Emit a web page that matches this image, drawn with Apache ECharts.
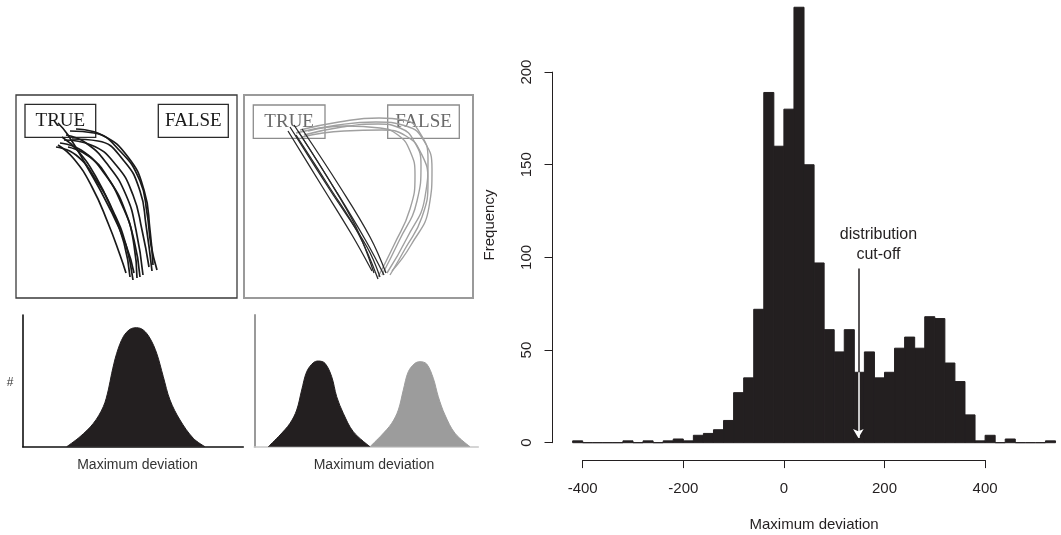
<!DOCTYPE html>
<html><head><meta charset="utf-8">
<script src="https://cdn.jsdelivr.net/npm/echarts@6/dist/echarts.min.js"></script>
<style>html,body{margin:0;padding:0;background:#fff}#c{width:1061px;height:535px}</style>
</head><body><div id="c"></div>
<script>
// ---------------- Histogram (right panel) ----------------
const binWidth = 20;
const binStarts = [-420,-400,-380,-360,-340,-320,-300,-280,-260,-240,-220,-200,-180,-160,-140,-120,-100,-80,-60,-40,-20,0,20,40,60,80,100,120,140,160,180,200,220,240,260,280,300,320,340,360,380,400,420,440,460,480,500,520];
const counts    = [1,0,0,0,0,1,0,1,0,1,2,1,4,5,7,12,27,35,72,189,160,180,235,150,97,61,49,61,38,49,35,38,51,57,51,68,67,43,33,15,1,4,0,2,0,0,0,1];
const xTicks = [-400,-200,0,200,400];
const yTicks = [0,50,100,150,200];
const cutoffValue = 148;
const arrowTopValue = 94;
const cutoffLabel = 'distribution\ncut-off';
const cutoffLabelPos = [188, 107];
const histXTitle = 'Maximum deviation';
const histYTitle = 'Frequency';

// ---------------- Illustrative panels (left) ----------------
const choiceLabels = ['TRUE','FALSE'];
// panel A: all trajectories to TRUE (local panel units)
const panelATraj = [
  [[42,28],[52,40],[70,70],[92,110],[110,150],[118,178]],
  [[54,36],[78,38],[104,56],[124,86],[131,118],[135,150],[141,175]],
  [[48,45],[75,50],[100,70],[117,100],[126,135],[133,172]],
  [[44,48],[65,55],[88,78],[106,110],[118,145],[124,182]],
  [[40,52],[60,60],[80,85],[98,118],[110,150],[117,185]],
  [[50,40],[70,48],[92,70],[110,100],[120,135],[127,180]],
  [[46,42],[62,56],[80,82],[96,115],[108,148],[114,182]],
  [[56,44],[82,46],[108,66],[124,96],[130,130],[136,176]],
  [[42,50],[58,64],[76,92],[92,128],[104,160],[110,178]],
  [[52,52],[74,62],[94,86],[110,118],[118,150],[121,183]],
  [[60,34],[86,40],[112,62],[128,95],[134,135],[137,170]]
];
// panel B: trajectories to TRUE (dark) and via FALSE (grey)
const panelBTrueTraj = [
  [[46,32],[86,95],[123,152],[136,182]],
  [[50,30],[82,80],[112,132],[130,178]],
  [[54,36],[92,96],[122,146],[140,180]],
  [[44,36],[76,88],[108,140],[128,176]],
  [[58,34],[96,92],[126,142],[142,178]],
  [[52,40],[84,90],[114,138],[134,184]]
];
const panelBFalseTraj = [
  [[56,35],[95,27],[135,23],[160,25],[176,38],[184,64],[181,102],[163,143],[143,178]],
  [[60,40],[98,32],[134,29],[156,33],[170,46],[177,70],[173,106],[155,146],[138,180]],
  [[52,38],[94,30],[132,27],[162,31],[180,46],[188,74],[185,112],[167,150],[148,176]],
  [[64,36],[102,31],[136,33],[154,40],[166,56],[171,80],[166,114],[150,150],[134,182]],
  [[58,42],[100,36],[138,35],[162,41],[177,58],[184,86],[178,122],[161,154],[146,180]]
];
// panel C: unimodal distribution
const bellSingle = [[44,0],[57.3,10],[70.7,23.4],[80.6,40],[85.6,56.7],[89,73.4],[94,93.4],[100.6,110],[107.3,117.4],[114,119],[120.6,116.7],[127.3,108.4],[134,93.4],[140.6,70],[147.3,46.7],[157.3,26.7],[170.6,8.4],[182.3,0]];
// panel D: bimodal distribution
const bellTrue  = [[14,0],[25.7,11.7],[35.7,23.4],[42.4,36.7],[47.4,56.7],[52.4,75],[59,84],[64,85.7],[70.7,83.4],[77.4,70],[82.4,50],[89,33.4],[99,15],[115.7,0]];
const bellFalse = [[115.7,0],[127.4,11.7],[137.4,23.4],[144,36.7],[149,56.7],[154,75],[160.7,83.4],[165.7,85],[172.4,82.7],[179,68.4],[184,50],[190.7,31.7],[200.7,13.4],[215.7,0]];
const panelXTitle = 'Maximum deviation';
const panelYTitle = '#';

// ---------------- Layout ----------------
const X0 = 783.9, SX = 0.503, Y0 = 442.7, SY = 1.853;
const histXMin = -460, histXMax = 550, histYMax = 238;
const histTitleCenter = 60;
const FONT = 'Liberation Sans, Arial, Helvetica, sans-serif';
const SERIF = 'Liberation Serif, Times New Roman, serif';
const INK = '#231f20';

const grids = [
  {left:16, top:95, width:221, height:203, show:true, borderColor:'#3a3a3a', borderWidth:1.3},
  {left:244, top:95, width:229, height:203, show:true, borderColor:'#9a9a9a', borderWidth:2},
  {left:22.7, top:315, width:220.6, height:131.7},
  {left:254.3, top:315, width:224, height:131.7},
  {left:X0 + histXMin*SX, top:Y0 - histYMax*SY, width:(histXMax-histXMin)*SX, height:histYMax*SY},
  {left:X0 + xTicks[0]*SX, top:Y0 + 7.4, width:(xTicks[xTicks.length-1]-xTicks[0])*SX, height:10},
  {left:X0 + histXMin*SX, top:Y0 - yTicks[yTicks.length-1]*SY, width:10, height:yTicks[yTicks.length-1]*SY}
];
const hidden = {show:false};
const plainAxis = (gi, min, max, extra) => Object.assign({type:'value', gridIndex:gi, min, max, show:false}, extra||{});
const lineAxis = (color, width) => ({show:true, axisLine:{show:true, onZero:false, lineStyle:{color, width}}, axisTick:hidden, axisLabel:hidden, splitLine:hidden});

const xAxes = [
  plainAxis(0, 0, 221),
  plainAxis(1, 0, 229),
  plainAxis(2, 0, 220.6, lineAxis('#111', 1.6)),
  plainAxis(3, 0, 224, lineAxis('#c8c8c8', 1.6)),
  plainAxis(4, histXMin, histXMax),
  {type:'value', gridIndex:5, min:xTicks[0], max:xTicks[xTicks.length-1], interval:xTicks[1]-xTicks[0], position:'bottom',
    axisLine:{show:true, onZero:false, lineStyle:{color:INK, width:1}},
    axisTick:{show:true, length:8, lineStyle:{color:INK, width:1}},
    axisLabel:{show:true, fontSize:15, fontFamily:FONT, color:INK, margin:21},
    splitLine:hidden},
  plainAxis(6, 0, 1)
];
const yAxes = [
  plainAxis(0, 0, 203, {inverse:true}),
  plainAxis(1, 0, 203, {inverse:true}),
  plainAxis(2, 0, 131.7, lineAxis('#111', 1.6)),
  plainAxis(3, 0, 131.7, lineAxis('#9a9a9a', 2)),
  plainAxis(4, 0, histYMax),
  plainAxis(5, 0, 1),
  {type:'value', gridIndex:6, min:yTicks[0], max:yTicks[yTicks.length-1], interval:yTicks[1]-yTicks[0], position:'left',
    axisLine:{show:true, onZero:false, lineStyle:{color:INK, width:1}},
    axisTick:{show:true, length:8, lineStyle:{color:INK, width:1}},
    axisLabel:{show:true, rotate:90, fontSize:15, fontFamily:FONT, color:INK, margin:18},
    splitLine:hidden}
];

function choiceBoxes(boxes, border, textColor){
  return {
    silent:true,
    itemStyle:{color:'rgba(0,0,0,0)', borderColor:border, borderWidth:1.3},
    label:{show:true, position:'inside', fontFamily:SERIF, fontSize:19, color:textColor},
    data: boxes.map((b,i)=>[{name:choiceLabels[i], coord:[b[0],b[1]]},{coord:[b[2],b[3]]}])
  };
}

const series = [];
panelATraj.forEach((t,i)=>series.push({
  type:'line', xAxisIndex:0, yAxisIndex:0, data:t, smooth:0.5, showSymbol:false, silent:true,
  lineStyle:{color:'#1a1a1a', width:1.7},
  markArea: i===0 ? choiceBoxes([[9,9.3,79.7,42.3],[142.3,9.3,212.3,42.3]], '#2a2a2a', '#1a1a1a') : undefined
}));
panelBFalseTraj.forEach((t,i)=>series.push({
  type:'line', xAxisIndex:1, yAxisIndex:1, data:t, smooth:0.5, showSymbol:false, silent:true,
  lineStyle:{color:'#a0a0a0', width:1.4},
  markArea: i===0 ? choiceBoxes([[9.3,10,81,43.3],[143.7,10,215.3,43.3]], '#8c8c8c', '#6a6a6a') : undefined
}));
panelBTrueTraj.forEach(t=>series.push({
  type:'line', xAxisIndex:1, yAxisIndex:1, data:t, smooth:0.4, showSymbol:false, silent:true,
  lineStyle:{color:'#2a2a2a', width:1.3}
}));
series.push({type:'line', xAxisIndex:2, yAxisIndex:2, data:bellSingle, smooth:0.35, showSymbol:false, silent:true,
  lineStyle:{color:INK, width:1}, areaStyle:{color:INK, opacity:1}});
series.push({type:'line', xAxisIndex:3, yAxisIndex:3, data:bellFalse, smooth:0.35, showSymbol:false, silent:true,
  lineStyle:{color:'#9c9c9c', width:1}, areaStyle:{color:'#9c9c9c', opacity:1}});
series.push({type:'line', xAxisIndex:3, yAxisIndex:3, data:bellTrue, smooth:0.35, showSymbol:false, silent:true,
  lineStyle:{color:INK, width:1}, areaStyle:{color:INK, opacity:1}});

const barAtCutoff = counts[binStarts.findIndex(s => cutoffValue >= s && cutoffValue < s + binWidth)];
series.push({
  type:'custom', xAxisIndex:4, yAxisIndex:4, silent:true,
  data: binStarts.map((s,i)=>[s, counts[i]]),
  encode:{x:0, y:1},
  renderItem:(params, api)=>{
    const s = api.value(0), c = api.value(1);
    const p0 = api.coord([s, c]);
    const p1 = api.coord([s + binWidth, 0]);
    return {type:'rect', shape:{x:p0[0], y:p0[1], width:p1[0]-p0[0], height:p1[1]-p0[1]},
      style:{fill:INK, stroke:INK, lineWidth:1}};
  },
  markLine:{
    silent:true, animation:false, label:{show:false},
    data:[
      [{coord:[cutoffValue, arrowTopValue], symbol:'none', lineStyle:{color:INK, width:1.5, type:'solid'}},
       {coord:[cutoffValue, barAtCutoff], symbol:'none'}],
      [{coord:[cutoffValue, barAtCutoff], symbol:'none', lineStyle:{color:'#ffffff', width:1.5, type:'solid'}, itemStyle:{color:'#ffffff'}},
       {coord:[cutoffValue, 2.5], symbol:'arrow', symbolSize:[8,9], itemStyle:{color:'#ffffff'}}]
    ]
  },
  markPoint:{
    silent:true, symbol:'rect', symbolSize:1, itemStyle:{color:'rgba(0,0,0,0)'},
    label:{show:true, position:'inside', formatter:cutoffLabel, fontSize:16, lineHeight:20, fontFamily:FONT, color:INK},
    data:[{coord:cutoffLabelPos}]
  }
});

const txt = (text, x, y, size, color, extra) => Object.assign({type:'text', x, y, silent:true,
  style:{text, align:'center', verticalAlign:'middle', fontSize:size, fontFamily:FONT, fill:color}}, extra||{});

const chart = echarts.init(document.getElementById('c'), null, {renderer:'canvas'});
chart.setOption({
  animation:false,
  backgroundColor:'#ffffff',
  grid:grids, xAxis:xAxes, yAxis:yAxes, series,
  graphic:[
    txt(panelYTitle, 10, 383, 12, '#333'),
    txt(panelXTitle, 137.5, 465, 14, '#333'),
    txt(panelXTitle, 374, 465, 14, '#333'),
    txt(histYTitle, 490, 225, 15, INK, {rotation:Math.PI/2}),
    txt(histXTitle, X0 + histTitleCenter*SX, 524.7, 15, INK)
  ]
});
</script></body></html>
